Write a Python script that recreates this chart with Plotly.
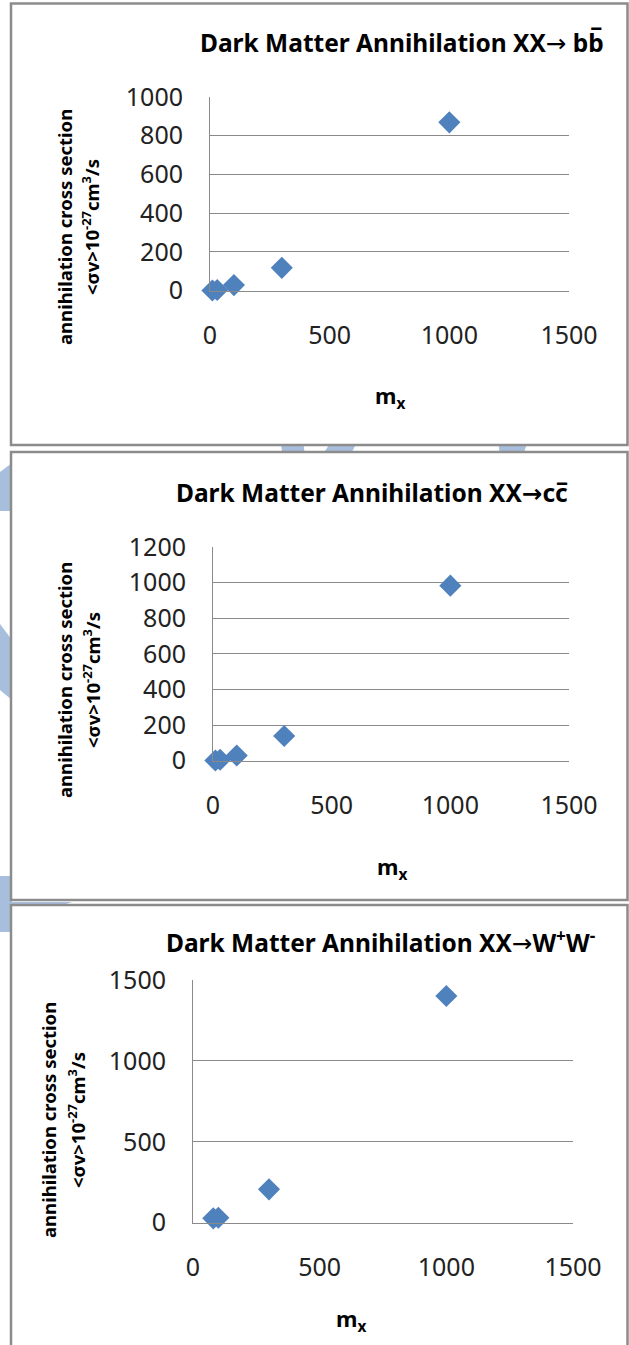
import plotly.graph_objects as go

W, H = 629, 1345

# ---------------- data ----------------
mx_bb = [10, 30, 100, 300, 1000]
sv_bb = [1, 4, 29, 118, 869]

mx_cc = [10, 30, 100, 300, 1000]
sv_cc = [1, 5, 29, 139, 983]

mx_ww = [80, 100, 300, 1000]
sv_ww = [27, 31, 206, 1401]

ARROW = "<span style=\"font-family:'DejaVu Sans';font-weight:normal\">→</span>"
ARROW_B = "<span style=\"font-family:'DejaVu Sans';font-weight:bold\">→</span>"
titles = [
    "<b>Dark Matter Annihilation XX</b>" + ARROW + " <b>bb\u0305</b>",
    "<b>Dark Matter Annihilation XX</b>" + ARROW_B + "<b>cc\u0305</b>",
    "<b>Dark Matter Annihilation XX</b>" + ARROW + "<b>W<sup>+</sup>W<sup>-</sup></b>",
]
ytitle1 = "<b>annihilation cross section</b>"
ytitle2 = "<b>&lt;σv&gt;10<sup>-27</sup>cm<sup>3</sup>/s</b>"
xtitle = "<b>m<sub>x</sub></b>"

y_ranges = [[0, 1000], [0, 1200], [0, 1500]]
y_dticks = [200, 200, 500]
x_range = [0, 1500]
x_dtick = 500

# ---------------- layout geometry (pixels) ----------------
def px(x):
    return x / W

def py(y):
    return 1 - y / H

# plot areas: (x_left, x_right, y_bottom, y_top) in pixels
areas = [
    (210, 569, 290.7, 97),
    (213, 569, 760.7, 547),
    (193, 573, 1222.7, 980),
]
panels = [  # x0, y0, x1, y1 borders
    (11, 3.5, 627.5, 445),
    (11, 452, 627.5, 900),
    (11, 905, 627.5, 1352),
]
title_pos = [(402, 42), (372, 492), (380, 941)]
xtitle_pos = [(390, 397), (392, 868), (351, 1320)]
ytitle_x = [(64, 90), (64, 91), (48, 76)]
ytitle_y = [227, 680, 1120]

series = [(mx_bb, sv_bb), (mx_cc, sv_cc), (mx_ww, sv_ww)]

fig = go.Figure()
FONT = "Noto Sans"
BLUE = "#4F81BD"
GRID = "#8a8a8a"

for i, (xs, ys) in enumerate(series):
    n = "" if i == 0 else str(i + 1)
    fig.add_trace(go.Scatter(
        x=xs, y=ys, mode="markers",
        marker=dict(symbol="diamond", size=17, color=BLUE, line=dict(width=0)),
        xaxis="x" + n, yaxis="y" + n, showlegend=False, cliponaxis=False,
        hoverinfo="x+y",
    ))
    xl, xr, yb, yt = areas[i]
    fig.update_layout(**{
        "xaxis" + n: dict(
            domain=[px(xl), px(xr)], range=x_range, dtick=x_dtick,
            showgrid=False, zeroline=False, showline=True, linecolor=GRID,
            linewidth=1, ticks="", ticklabelstandoff=22, automargin=False,
            tickfont=dict(family=FONT, size=25, color="#222"),
            anchor="y" + n, fixedrange=True,
        ),
        "yaxis" + n: dict(
            domain=[py(yb), py(yt)], range=y_ranges[i], dtick=y_dticks[i],
            showgrid=True, gridcolor=GRID, gridwidth=1, zeroline=False,
            showline=True, linecolor=GRID, linewidth=1, ticks="",
            ticklabelstandoff=21, automargin=False,
            tickfont=dict(family=FONT, size=25, color="#222"),
            anchor="x" + n, fixedrange=True,
        ),
    })

annotations = []
for i in range(3):
    tx, ty = title_pos[i]
    annotations.append(dict(
        text=titles[i], x=px(tx), y=py(ty), xref="paper", yref="paper",
        showarrow=False, xanchor="center", yanchor="middle",
        font=dict(family=FONT, size=24.5, color="#000"),
    ))
    mx_, my_ = xtitle_pos[i]
    annotations.append(dict(
        text=xtitle, x=px(mx_), y=py(my_), xref="paper", yref="paper",
        showarrow=False, xanchor="center", yanchor="middle",
        font=dict(family=FONT, size=22, color="#000"),
    ))
    for t, xx in zip((ytitle1, ytitle2), ytitle_x[i]):
        annotations.append(dict(
            text=t, x=px(xx), y=py(ytitle_y[i]), xref="paper", yref="paper",
            showarrow=False, xanchor="center", yanchor="middle", textangle=-90,
            font=dict(family=FONT, size=18.5, color="#000"),
        ))

LB = "#A7BEDC"
def poly(pts):
    d = "M " + " L ".join(f"{px(a)},{py(b)}" for a, b in pts) + " Z"
    return dict(type="path", path=d, xref="paper", yref="paper",
                fillcolor=LB, line=dict(width=0), layer="below")

shapes = [
    poly([(280, 440), (303, 440), (305, 456), (283, 456)]),
    poly([(332, 440), (358, 440), (350, 456), (322, 456)]),
    poly([(498, 440), (528, 440), (523, 456), (500, 456)]),
    poly([(0, 472), (12, 463), (12, 511), (0, 511)]),
    poly([(0, 624), (12, 640), (12, 700), (0, 690)]),
    poly([(0, 876), (12, 876), (12, 902), (72, 902), (60, 906), (12, 906), (12, 932), (0, 932)]),
]
for (x0, y0, x1, y1) in panels:
    shapes.append(dict(type="rect", xref="paper", yref="paper",
                       x0=px(x0), x1=px(x1), y0=py(y0), y1=py(y1),
                       fillcolor="white", line=dict(color="#8c8c8c", width=2.5),
                       layer="below"))

fig.update_layout(
    width=W, height=H, autosize=False,
    margin=dict(l=0, r=0, t=0, b=0, pad=0, autoexpand=False),
    paper_bgcolor="white", plot_bgcolor="rgba(0,0,0,0)",
    annotations=annotations, shapes=shapes, showlegend=False,
)

fig.write_html(
    "out.html",
    config={"displayModeBar": False},
    post_script=(
        "document.documentElement.style.margin='0';"
        "document.documentElement.style.overflow='hidden';"
        "document.body.style.margin='0';document.body.style.padding='0';"
        "document.body.style.overflow='hidden';"
    ),
)
